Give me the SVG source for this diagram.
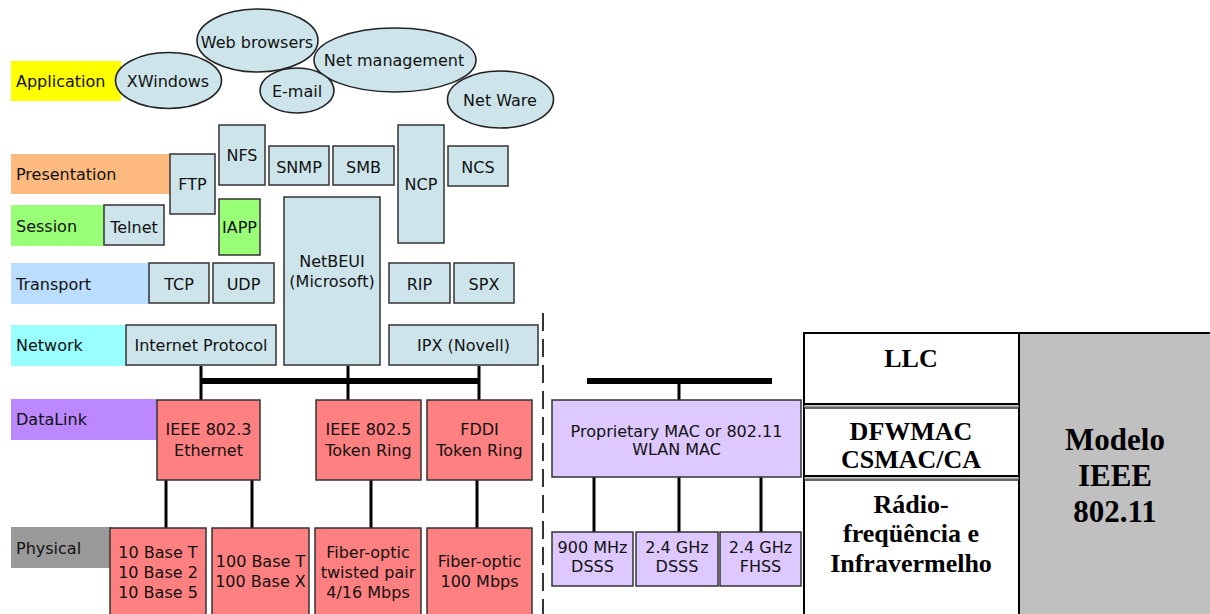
<svg xmlns="http://www.w3.org/2000/svg" width="1210" height="614" viewBox="0 0 1210 614">
<style>
.band{stroke:none}
.lt{font-family:"DejaVu Sans","Verdana",sans-serif;font-size:16px;fill:#111}
.t{font-family:"DejaVu Sans","Verdana",sans-serif;font-size:16px;fill:#111;text-anchor:middle}
.bx{fill:#cde5ea;stroke:#333;stroke-width:1.5}
.gr{fill:#99ff77;stroke:#333;stroke-width:1.5}
.rd{fill:#ff8080;stroke:#333;stroke-width:1.5}
.lv{fill:#ddc8ff;stroke:#333;stroke-width:1.5}
.el{fill:#cde5ea;stroke:#222;stroke-width:1.6}
.ln{stroke:#000;stroke-width:3;fill:none}
.bar{stroke:#000;stroke-width:6;fill:none}
.tb{font-family:"Liberation Serif","Times New Roman",serif;font-weight:bold;fill:#000;text-anchor:middle}
</style>

<!-- layer bands -->
<g id="bands">
  <g id="band-application"><rect class="band" x="11" y="61" width="110" height="40" fill="#ffff00"/><text class="lt" x="16" y="87">Application</text></g>
  <g id="band-presentation"><rect class="band" x="11" y="154" width="159" height="40" fill="#ffbb7f"/><text class="lt" x="16" y="180">Presentation</text></g>
  <g id="band-session"><rect class="band" x="11" y="205" width="93" height="41" fill="#99ff77"/><text class="lt" x="16" y="232">Session</text></g>
  <g id="band-transport"><rect class="band" x="11" y="263" width="138" height="41" fill="#bbddff"/><text class="lt" x="16" y="290">Transport</text></g>
  <g id="band-network"><rect class="band" x="11" y="325" width="115" height="41" fill="#99ffff"/><text class="lt" x="16" y="351">Network</text></g>
  <g id="band-datalink"><rect class="band" x="11" y="399" width="146" height="41" fill="#bb88ff"/><text class="lt" x="16" y="425">DataLink</text></g>
  <g id="band-physical"><rect class="band" x="11" y="527" width="100" height="41" fill="#999999"/><text class="lt" x="16" y="554">Physical</text></g>
</g>

<!-- connectors -->
<g id="connectors">
  <line class="ln" x1="201" y1="366" x2="201" y2="400"/>
  <line class="ln" x1="348" y1="366" x2="348" y2="400"/>
  <line class="ln" x1="479" y1="366" x2="479" y2="400"/>
  <line class="bar" x1="201" y1="381" x2="479" y2="381"/>
  <line class="ln" x1="166" y1="480" x2="166" y2="528"/>
  <line class="ln" x1="252" y1="480" x2="252" y2="528"/>
  <line class="ln" x1="371" y1="480" x2="371" y2="528"/>
  <line class="ln" x1="477" y1="480" x2="477" y2="528"/>
  <line class="bar" x1="587" y1="381" x2="772" y2="381"/>
  <line class="ln" x1="679" y1="381" x2="679" y2="400"/>
  <line class="ln" x1="594" y1="477" x2="594" y2="532"/>
  <line class="ln" x1="679" y1="477" x2="679" y2="532"/>
  <line class="ln" x1="761" y1="477" x2="761" y2="532"/>
  <line x1="543" y1="313" x2="543" y2="614" stroke="#333" stroke-width="2" stroke-dasharray="18 8"/>
</g>

<!-- application ellipses -->
<g id="xwindows"><ellipse class="el" cx="168.5" cy="80.5" rx="53" ry="28"/><text class="t" x="168" y="87">XWindows</text></g>
<g id="netmanagement"><ellipse class="el" cx="395" cy="60" rx="81" ry="32"/><text class="t" x="394" y="66">Net management</text></g>
<g id="webbrowsers"><ellipse class="el" cx="257.5" cy="40.5" rx="60.5" ry="31.5"/><text class="t" x="257" y="48">Web browsers</text></g>
<g id="email"><ellipse class="el" cx="297" cy="90.5" rx="37" ry="22.5"/><text class="t" x="297" y="97">E-mail</text></g>
<g id="netware"><ellipse class="el" cx="500.5" cy="99.5" rx="53" ry="28.5"/><text class="t" x="500" y="106">Net Ware</text></g>

<!-- protocol boxes -->
<g id="ftp"><rect class="bx" x="170" y="154" width="45" height="60"/><text class="t" x="192.5" y="190">FTP</text></g>
<g id="nfs"><rect class="bx" x="219" y="125" width="46" height="60"/><text class="t" x="242" y="161">NFS</text></g>
<g id="snmp"><rect class="bx" x="269" y="146" width="60" height="39"/><text class="t" x="299" y="173">SNMP</text></g>
<g id="smb"><rect class="bx" x="333" y="146" width="61" height="39"/><text class="t" x="363.5" y="173">SMB</text></g>
<g id="ncp"><rect class="bx" x="398" y="125" width="46" height="118"/><text class="t" x="421" y="190">NCP</text></g>
<g id="ncs"><rect class="bx" x="448" y="146" width="60" height="40"/><text class="t" x="478" y="173">NCS</text></g>
<g id="telnet"><rect class="bx" x="104" y="205" width="60" height="40"/><text class="t" x="134" y="233">Telnet</text></g>
<g id="iapp"><rect class="gr" x="219" y="199" width="41" height="56"/><text class="t" x="239.5" y="233">IAPP</text></g>
<g id="netbeui"><rect class="bx" x="284" y="197" width="96" height="168"/><text class="t" x="332" y="267">NetBEUI</text><text class="t" x="332" y="287">(Microsoft)</text></g>
<g id="tcp"><rect class="bx" x="149" y="263" width="60" height="40"/><text class="t" x="179" y="290">TCP</text></g>
<g id="udp"><rect class="bx" x="213" y="263" width="61" height="40"/><text class="t" x="243.5" y="290">UDP</text></g>
<g id="rip"><rect class="bx" x="389" y="263" width="61" height="40"/><text class="t" x="419.5" y="290">RIP</text></g>
<g id="spx"><rect class="bx" x="454" y="263" width="60" height="40"/><text class="t" x="484" y="290">SPX</text></g>
<g id="ip"><rect class="bx" x="126" y="325" width="150" height="40"/><text class="t" x="201" y="351">Internet Protocol</text></g>
<g id="ipx"><rect class="bx" x="389" y="325" width="149" height="40"/><text class="t" x="463.5" y="351">IPX (Novell)</text></g>

<!-- datalink -->
<g id="ieee8023"><rect class="rd" x="157" y="400" width="103" height="80"/><text class="t" x="208.5" y="435">IEEE 802.3</text><text class="t" x="208.5" y="456">Ethernet</text></g>
<g id="ieee8025"><rect class="rd" x="316" y="400" width="105" height="80"/><text class="t" x="368.5" y="435">IEEE 802.5</text><text class="t" x="368.5" y="456">Token Ring</text></g>
<g id="fddi"><rect class="rd" x="427" y="400" width="105" height="80"/><text class="t" x="479.5" y="435">FDDI</text><text class="t" x="479.5" y="456">Token Ring</text></g>

<!-- physical -->
<g id="base10"><rect class="rd" x="110" y="528" width="96" height="92"/><text class="t" x="158" y="558">10 Base T</text><text class="t" x="158" y="578">10 Base 2</text><text class="t" x="158" y="598">10 Base 5</text></g>
<g id="base100"><rect class="rd" x="212" y="528" width="97" height="92"/><text class="t" x="260.5" y="567">100 Base T</text><text class="t" x="260.5" y="587">100 Base X</text></g>
<g id="fiber-tp"><rect class="rd" x="315" y="528" width="106" height="92"/><text class="t" x="368" y="558">Fiber-optic</text><text class="t" x="368" y="578">twisted pair</text><text class="t" x="368" y="598">4/16 Mbps</text></g>
<g id="fiber-100"><rect class="rd" x="427" y="528" width="105" height="92"/><text class="t" x="479.5" y="567">Fiber-optic</text><text class="t" x="479.5" y="587">100 Mbps</text></g>

<!-- wireless -->
<g id="wlan-mac"><rect class="lv" x="552" y="400" width="249" height="77"/><text class="t" x="676.5" y="437">Proprietary MAC or 802.11</text><text class="t" x="676.5" y="455">WLAN MAC</text></g>
<g id="dsss900"><rect class="lv" x="552" y="532" width="81" height="54"/><text class="t" x="592.5" y="553">900 MHz</text><text class="t" x="592.5" y="572">DSSS</text></g>
<g id="dsss24"><rect class="lv" x="636" y="532" width="82" height="54"/><text class="t" x="677" y="553">2.4 GHz</text><text class="t" x="677" y="572">DSSS</text></g>
<g id="fhss24"><rect class="lv" x="720" y="532" width="81" height="54"/><text class="t" x="760.5" y="553">2.4 GHz</text><text class="t" x="760.5" y="572">FHSS</text></g>

<!-- IEEE 802.11 table -->
<g id="table">
  <rect x="1019" y="332" width="195" height="290" fill="#c0c0c0"/>
  <rect x="804" y="333" width="410" height="290" fill="none" stroke="#000" stroke-width="2"/>
  <line x1="1019" y1="332" x2="1019" y2="614" stroke="#000" stroke-width="2"/>
  <line x1="804" y1="404" x2="1019" y2="404" stroke="#000" stroke-width="2"/>
  <line x1="804" y1="406.2" x2="1019" y2="406.2" stroke="#999" stroke-width="1.5"/>
  <line x1="804" y1="408" x2="1019" y2="408" stroke="#333" stroke-width="1.5"/>
  <line x1="804" y1="476" x2="1019" y2="476" stroke="#000" stroke-width="2"/>
  <line x1="804" y1="478.2" x2="1019" y2="478.2" stroke="#999" stroke-width="1.5"/>
  <line x1="804" y1="480" x2="1019" y2="480" stroke="#333" stroke-width="1.5"/>
  <g id="llc"><text class="tb" x="911" y="367" font-size="26">LLC</text></g>
  <g id="dfwmac"><text class="tb" x="911" y="440" font-size="26">DFWMAC</text><text class="tb" x="911" y="468" font-size="26">CSMAC/CA</text></g>
  <g id="radio"><text class="tb" x="911" y="513" font-size="26">Rádio-</text><text class="tb" x="911" y="542" font-size="26">freqüência e</text><text class="tb" x="911" y="572" font-size="26">Infravermelho</text></g>
  <g id="modelo"><text class="tb" x="1115" y="450" font-size="31">Modelo</text><text class="tb" x="1115" y="486" font-size="31">IEEE</text><text class="tb" x="1115" y="522" font-size="31">802.11</text></g>
</g>
</svg>
